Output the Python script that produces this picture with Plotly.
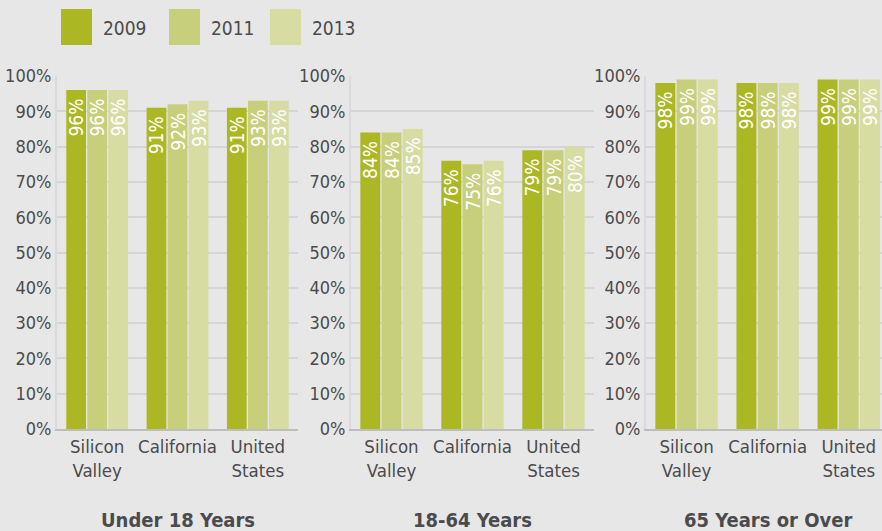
import plotly.graph_objects as go

# Share of residents with health insurance, by age group, region and year
regions = ["Silicon<br>Valley", "California", "United<br>States"]
years = ["2009", "2011", "2013"]
age_groups = ["Under 18 Years", "18-64 Years", "65 Years or Over"]

under18_2009 = [96, 91, 91]
under18_2011 = [96, 92, 93]
under18_2013 = [96, 93, 93]

adult_2009 = [84, 76, 79]
adult_2011 = [84, 75, 79]
adult_2013 = [85, 76, 80]

senior_2009 = [98, 98, 99]
senior_2011 = [99, 98, 99]
senior_2013 = [99, 98, 99]

y_ticks = [0, 10, 20, 30, 40, 50, 60, 70, 80, 90, 100]

panels = [
    [under18_2009, under18_2011, under18_2013],
    [adult_2009, adult_2011, adult_2013],
    [senior_2009, senior_2011, senior_2013],
]

colors = ["#abb823", "#c7cf7b", "#d7dca3"]
bg = "#e7e7e7"
text_color = "#4b4b4d"
grid_color = "#d5d5d5"
font_family = "DejaVu Sans Condensed, Liberation Sans Narrow, sans-serif"

W, H = 882, 531
x_domains = [[57 / W, 298 / W], [351 / W, 594 / W], [646 / W, 1.0]]
x_ranges = [[-0.5, 2.5], [-0.5, 2.5], [-0.5, 2.41]]
y_domain = [1 - 429 / H, 1 - 76 / H]

fig = go.Figure()

for p, series in enumerate(panels):
    suffix = "" if p == 0 else str(p + 1)
    for k, vals in enumerate(series):
        fig.add_trace(go.Bar(
            x=regions,
            y=vals,
            name=years[k],
            marker=dict(color=colors[k], line=dict(width=0)),
            # trailing no-break space keeps the label a little below the bar top
            text=[f"{v}%\u00a0" for v in vals],
            textposition="inside",
            insidetextanchor="end",
            textangle=-90,
            constraintext="none",
            textfont=dict(family=font_family, size=19, color="white"),
            xaxis="x" + suffix,
            yaxis="y" + suffix,
            showlegend=False,
            hoverinfo="skip",
        ))

layout = dict(
    width=W,
    height=H,
    paper_bgcolor=bg,
    plot_bgcolor=bg,
    margin=dict(l=0, r=0, t=0, b=0),
    barmode="group",
    bargap=0.215,
    bargroupgap=0.06,
    font=dict(family=font_family, color=text_color),
    showlegend=False,
)

for p in range(3):
    suffix = "" if p == 0 else str(p + 1)
    layout["xaxis" + suffix] = dict(
        domain=x_domains[p],
        range=x_ranges[p],
        anchor="y" + suffix,
        automargin=False,
        showline=True,
        linecolor="#bdbdbd",
        linewidth=2,
        ticks="",
        tickfont=dict(family=font_family, size=18.5, color=text_color),
        showgrid=False,
        fixedrange=True,
    )
    layout["yaxis" + suffix] = dict(
        domain=y_domain,
        range=[0, 100],
        anchor="x" + suffix,
        automargin=False,
        tickvals=y_ticks,
        ticktext=[f"{v}%" for v in y_ticks],
        showline=True,
        linecolor="#dadada",
        linewidth=2,
        showgrid=True,
        gridcolor=grid_color,
        gridwidth=2,
        zeroline=False,
        ticks="",
        tickfont=dict(family=font_family, size=18, color=text_color),
        fixedrange=True,
    )

fig.update_layout(**layout)

# Panel titles below each group of bars
for p, title in enumerate(age_groups):
    suffix = "" if p == 0 else str(p + 1)
    fig.add_annotation(
        x=1, xref="x" + suffix,
        y=1 - 520 / H, yref="paper",
        text=f"<b>{title}</b>",
        showarrow=False,
        xanchor="center", yanchor="middle",
        font=dict(family=font_family, size=20, color=text_color),
    )

# Legend: large colour swatches with the year next to each
legend_x = [61, 169, 270]
for k, year in enumerate(years):
    x0 = legend_x[k]
    fig.add_shape(
        type="rect", xref="paper", yref="paper",
        x0=x0 / W, x1=(x0 + 31) / W,
        y0=1 - 45 / H, y1=1 - 9 / H,
        fillcolor=colors[k], line=dict(width=0),
    )
    fig.add_annotation(
        x=(x0 + 40) / W, xref="paper",
        y=1 - 28 / H, yref="paper",
        text=year, showarrow=False,
        xanchor="left", yanchor="middle",
        font=dict(family=font_family, size=19, color=text_color),
    )

fig.write_html("out.html")
